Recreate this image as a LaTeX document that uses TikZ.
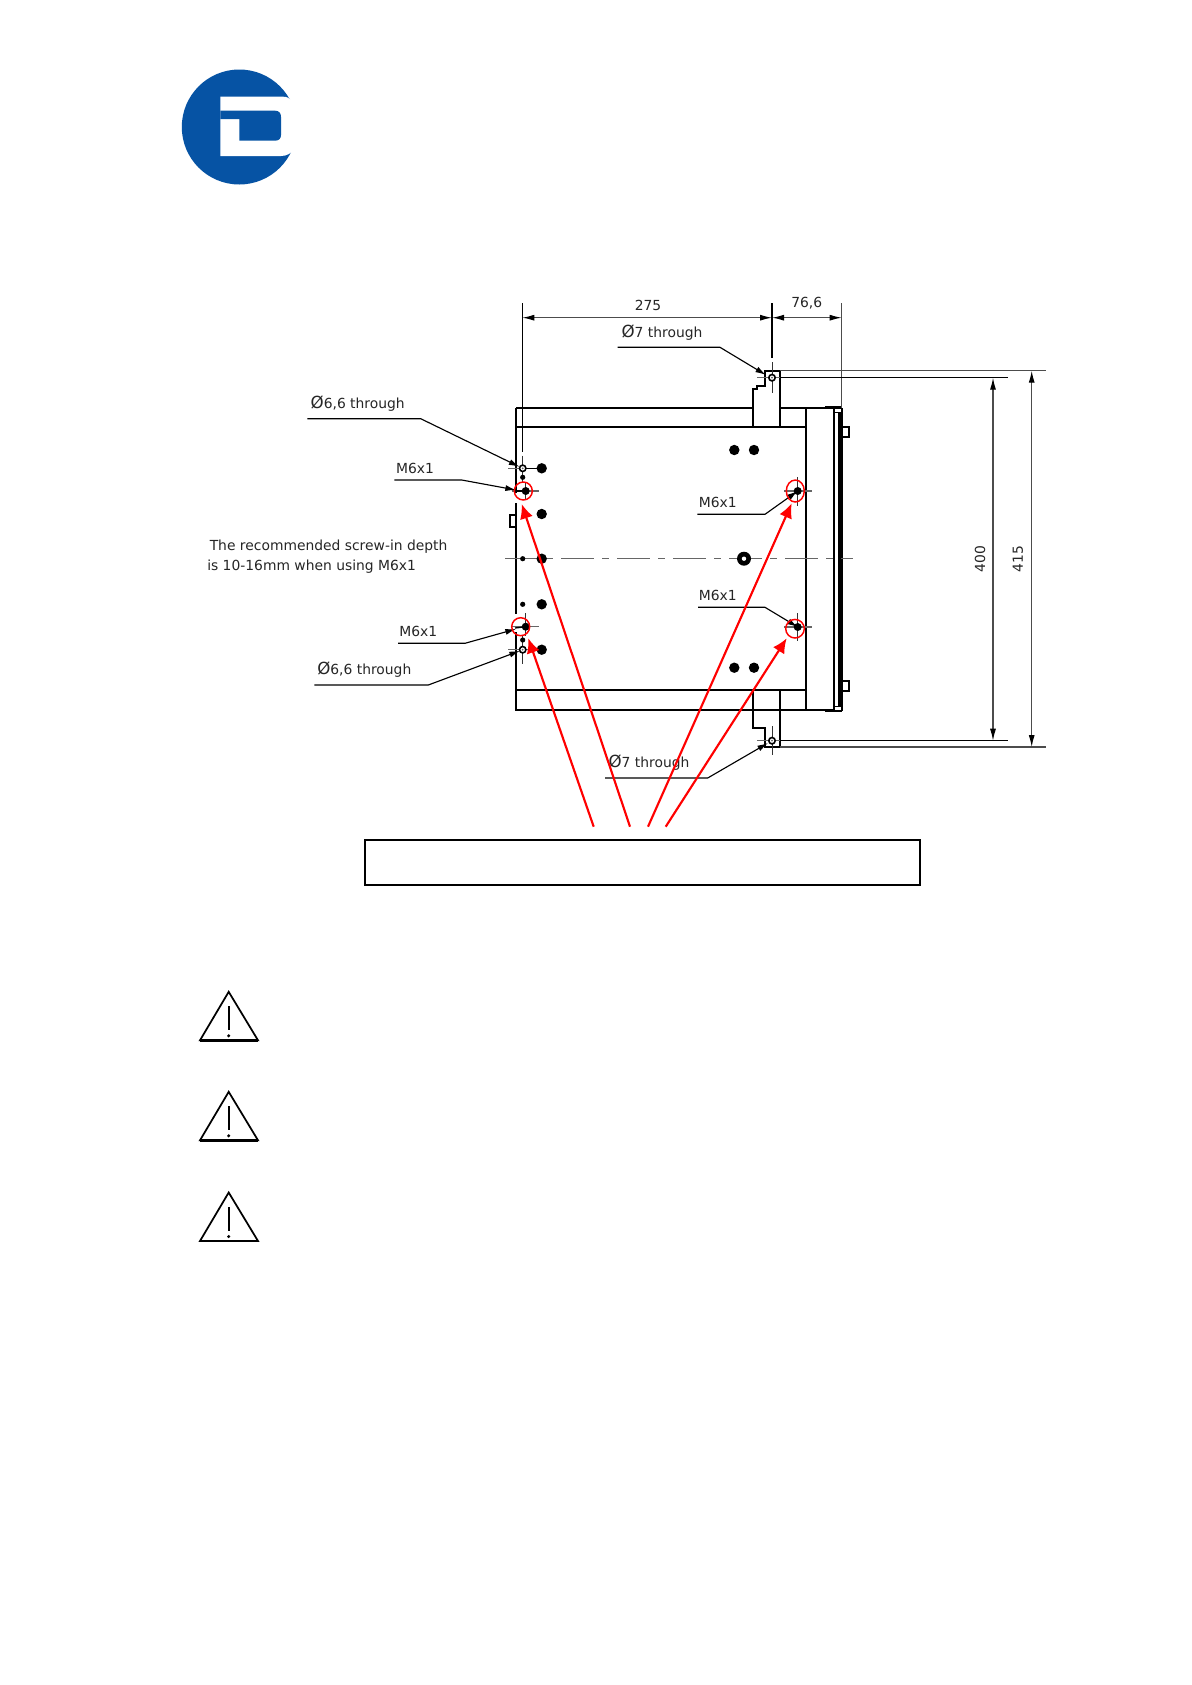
\documentclass[tikz,border=0pt]{standalone}
\usepackage{fontspec}
\setmainfont{DejaVu Sans}
\usetikzlibrary{arrows.meta}
\definecolor{logoblue}{HTML}{0653A4}
\newcommand{\diam}{{\fontsize{12.5}{12}\selectfont Ø}}
\tikzset{
  x=0.75pt,y=-0.75pt,
  body/.style={draw=black,line width=1.6pt,line join=miter},
  thinbody/.style={draw=black,line width=1.25pt},
  dimline/.style={draw=black!70,line width=0.85pt},
  centre/.style={draw=black!60,line width=0.9pt},
  hairline/.style={draw=black!80,line width=0.65pt},
  leader/.style={draw=black,line width=0.85pt,-{Latex[length=8pt,width=4.5pt]}},
  dimarrow/.style={draw=black!70,line width=0.85pt,{Latex[length=9pt,width=4.5pt,black]}-{Latex[length=9pt,width=4.5pt,black]}},
  redarrow/.style={draw=red,line width=1.6pt,-{Latex[length=11pt,width=10pt]}},
  redring/.style={draw=red,line width=1.1pt},
  lab/.style={font=\fontsize{10.4}{12}\selectfont,inner sep=0pt,text=black!85},
  warn/.style={draw=black,line width=1.3pt,line join=miter},
}
\begin{document}
\begin{tikzpicture}
\useasboundingbox[fill=white] (0,0) rectangle (1192,1685);

% logo
\fill[logoblue] (239.3,127) circle[radius=57.5];
\fill[white] (220.3,96.7) -- (283,96.7) .. controls (287,96.7) and (289,98) .. (291,100) -- (305,100) -- (305,150) -- (294,150) .. controls (291,153) and (287,156) .. (281,156) -- (220.3,156) -- cycle;
\fill[logoblue] (220.3,110.7) -- (275,110.7) .. controls (279,110.7) and (281,113) .. (281,117) -- (281,135) .. controls (281,138.5) and (279,140.7) .. (275,140.7) -- (239.3,140.7) -- (239.3,119) -- (220.3,119) -- cycle;

% named points
\coordinate (holeTL) at (522.7,468.3);
\coordinate (holeBL) at (522.7,649.7);
\coordinate (m6TR) at (797.7,491);
\coordinate (m6BR) at (797.7,627);
\coordinate (holeT) at (772,377.7);
\coordinate (holeB) at (772,740.7);
\coordinate (redTL) at (521.7,504);
\coordinate (redBL) at (528.3,638.3);
\coordinate (redTR) at (791.7,503.3);
\coordinate (redBR) at (786.7,638.3);

% body
\draw[body] (516.3,408.3) -- (752.7,408.3);
\draw[body] (780.3,408.3) -- (841.7,408.3);
\draw[body] (516.3,408.3) -- (516.3,493);
\draw[body] (516.3,503) -- (516.3,614);
\draw[body] (516.3,632) -- (516.3,709.7) -- (834.3,709.7);
\draw[thinbody] (516.3,427) -- (806,427);
\draw[thinbody] (516.3,690.3) -- (806,690.3);
\draw[thinbody] (806,408.3) -- (806,709.7);
% front panel
\draw[thinbody] (834.3,408) -- (834.3,710);
\draw[body,line width=2pt] (839.3,412) -- (839.3,707);
\draw[thinbody] (841.7,408) -- (841.7,711);
\draw[body] (825,407.3) -- (841.7,407.3);
\draw[body] (825,711.3) -- (841.7,711.3);
\draw[thinbody] (834.3,412.5) -- (841.7,412.5);
\draw[thinbody] (834.3,706.5) -- (841.7,706.5);
\draw[thinbody] (842.3,426.7) rectangle (849.3,437.3);
\draw[thinbody] (842.3,680.7) rectangle (849.3,691.3);
\draw[thinbody] (510,515) rectangle (516.3,526.7);
% brackets
\draw[thinbody] (752.7,427) -- (752.7,389.3) -- (757,389.3) -- (757,386) -- (765,386) -- (765,370.7) -- (780.3,370.7) -- (780.3,427);
\draw[thinbody] (752.7,690.3) -- (752.7,728.3) -- (765,728.3) -- (765,747) -- (780.3,747) -- (780.3,690.3);

% centre lines
\draw[centre,dash pattern=on 25pt off 6pt on 5pt off 6pt] (505,558.7) -- (853.3,558.7);
\draw[centre] (508,468.3) -- (530,468.3);
\draw[centre] (511.7,491) -- (539.3,491);
\draw[centre] (508,649.7) -- (530,649.7);
\draw[centre] (511.7,626.7) -- (539.3,626.7);
\draw[centre] (784,491) -- (811.7,491);
\draw[centre] (784,627) -- (811.7,627);
\draw[centre] (757.3,377.7) -- (787,377.7);
\draw[centre] (757.3,740.7) -- (787,740.7);
\draw[hairline] (525.7,482) -- (525.7,500);
\draw[hairline] (525.7,613) -- (525.7,636);
\draw[hairline] (522.7,455.5) -- (522.7,482);
\draw[hairline] (522.7,636) -- (522.7,664);
\draw[hairline] (797.7,477) -- (797.7,506);
\draw[hairline] (797.7,613) -- (797.7,640.7);
\draw[hairline] (772,362) -- (772,392.7);
\draw[hairline] (772,726) -- (772,755);
\draw[draw=black,line width=1pt] (522.7,468.3) -- (541.7,468.3);
\draw[draw=black,line width=1pt] (515,491) -- (525.7,491);
\draw[draw=black,line width=1pt] (515,628) -- (525.7,626.7);

% holes
\foreach \x/\y in {541.7/468.3,541.7/514,541.7/558.7,541.7/604.3,541.7/649.7,734.3/450,754/450,734.3/667.7,754/667.7}
  \fill[black] (\x,\y) circle[radius=5.2];
\foreach \x/\y in {522.7/477.3,522.7/558.7,522.7/604.3,522.7/640}
  \fill[black] (\x,\y) circle[radius=2.6];
\foreach \x/\y in {525.7/491,525.7/626.7,797.7/491,797.7/627}
  \fill[black] (\x,\y) circle[radius=4];
\foreach \p in {holeTL,holeBL,holeT,holeB}{
  \fill[white] (\p) circle[radius=3.2];
  \draw[black,line width=1.2pt] (\p) circle[radius=3.2];
  \fill[black!60] (\p) circle[radius=1];
}
\fill[black] (744,558.7) circle[radius=7];
\fill[white] (744,558.7) circle[radius=2.2];

% dimension extension lines
\draw[dimline,black] (522.3,303) -- (522.3,452);
\draw[body,line width=1.3pt] (772,303) -- (772,358);
\draw[dimline] (841.7,303) -- (841.7,408);
\draw[dimline] (780.3,370.7) -- (1046,370.7);
\draw[dimline,black] (780.3,377.7) -- (1008,377.7);
\draw[dimline,black] (780.3,740.7) -- (1008,740.7);
\draw[dimline] (780.3,747) -- (1046,747);
% dimensions
\draw[dimarrow] (522.3,317.7) -- (772,317.7);
\draw[dimarrow] (772,317.7) -- (841.7,317.7);
\draw[dimarrow] (993,377.7) -- (993,740.7);
\draw[dimarrow] (1031.7,370.7) -- (1031.7,747);

\node[lab] (d275) at (648,305) {275};
\node[lab] (d766) at (806.7,303.5) {76,6};
\node[lab,rotate=90] (d400) at (980,559) {400};
\node[lab,rotate=90] (d415) at (1018,559) {415};

% leaders
\coordinate (tipA) at (519.5,466.8);
\coordinate (tipB) at (516,490);
\coordinate (tipC) at (516,629);
\coordinate (tipD) at (520,650.8);
\coordinate (tipE) at (766,375);
\coordinate (tipF) at (768,743);
\node[lab] (t1) at (357.7,404) {\diam6,6 through};
\draw[leader] (307.3,418.7) -- (420.7,418.7) -- (tipA);
\node[lab] (t2) at (415,468.7) {M6x1};
\draw[leader] (394.3,480) -- (461.7,480) -- (tipB);
\node[lab] (t3) at (418.3,631.7) {M6x1};
\draw[leader] (398,643.3) -- (465,643.3) -- (tipC);
\node[lab] (t4) at (364.3,670) {\diam6,6 through};
\draw[leader] (314.3,685) -- (428.3,685) -- (tipD);
\node[lab] (t5) at (662,332.7) {\diam7 through};
\draw[leader] (617.7,347.3) -- (720,347.3) -- (tipE);
\node[lab] (t6) at (649,762.7) {\diam7 through};
\draw[leader] (605,778) -- (707.7,778) -- (tipF);
\node[lab] (t7) at (717.7,502.7) {M6x1};
\draw[leader] (697.3,514.3) -- (765,514.3) -- (m6TR);
\node[lab] (t8) at (717.7,595) {M6x1};
\draw[leader] (698,607.3) -- (765,607.3) -- (m6BR);

\node[lab,anchor=base west] (note1) at (209.5,550) {The recommended screw-in depth};
\node[lab,anchor=base west] (note2) at (207,570) {is 10-16mm when using M6x1};

% caption box
\node[draw=black,line width=0.9pt,minimum width=416.25pt,minimum height=33.75pt,inner sep=0pt,anchor=north west] (box) at (364.3,839.3) {};

% red markers and arrows
\draw[redring] (523.3,491) circle[radius=9];
\draw[redring] (520.7,626.7) circle[radius=9];
\draw[redring] (795.3,491) ellipse[x radius=9,y radius=11];
\draw[redring] (795,628.7) circle[radius=9.3];
\coordinate (r1) at (630,826.7);
\coordinate (r2) at (593.7,826.7);
\coordinate (r3) at (648,826.7);
\coordinate (r4) at (665.7,826.7);
\draw[redarrow] (r1) -- (redTL);
\draw[redarrow] (r2) -- (redBL);
\draw[redarrow] (r3) -- (redTR);
\draw[redarrow] (r4) -- (redBR);

% warning triangles
\foreach \y in {1040.3,1140.3,1241}{
  \draw[warn] (228.7,\y-48.5) -- (258,\y) -- (200,\y) -- cycle;
  \draw[warn,line width=1.8pt] (200,\y) -- (258,\y);
  \draw[black,line width=1.3pt] (228.7,\y-34) -- (228.7,\y-10.5);
  \fill[black] (228.7,\y-4.5) circle[radius=1.7];
}
\end{tikzpicture}
\end{document}
